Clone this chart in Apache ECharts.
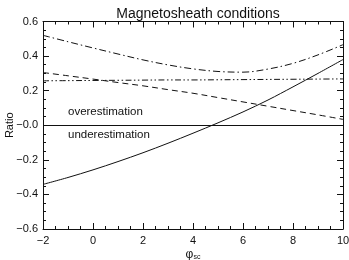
<!DOCTYPE html>
<html>
<head>
<meta charset="utf-8">
<script src="https://cdn.jsdelivr.net/npm/echarts@6/dist/echarts.min.js"></script>
<style>
  html, body { margin: 0; padding: 0; background: #fff; }
  #chart { width: 349px; height: 260px; }
</style>
</head>
<body>
<div id="chart"></div>
<script>
// phi_sc sample positions
const phiValues = [-2, -1, 0, 1, 2, 3, 4, 5, 6, 7, 8, 9, 10];
// solid curve
const solidRatio = [-0.342, -0.302, -0.258, -0.21, -0.159, -0.104, -0.046, 0.014, 0.077, 0.146, 0.222, 0.3, 0.38];
// dashed curve
const dashedRatio = [0.305, 0.286, 0.267, 0.247, 0.228, 0.206, 0.185, 0.16, 0.135, 0.11, 0.085, 0.06, 0.034];
// dash-dot curve (upper)
const dashDotRatio = [0.52, 0.483, 0.447, 0.412, 0.378, 0.349, 0.326, 0.311, 0.307, 0.325, 0.358, 0.407, 0.466];
// dash-dot-dot curve (nearly flat)
const dashDotDotRatio = [0.257, 0.258, 0.259, 0.26, 0.261, 0.262, 0.262, 0.263, 0.264, 0.265, 0.266, 0.267, 0.268];

const xTicks = [-2, 0, 2, 4, 6, 8, 10];
const yTicks = [-0.6, -0.4, -0.2, 0, 0.2, 0.4, 0.6];

const font = "Liberation Sans";
const ink = "#111";

const chart = echarts.init(document.getElementById("chart"));

const pairs = (vals) => phiValues.map((x, i) => [x, vals[i]]);

const tickCommon = {
  axisLine: { show: true, onZero: false, lineStyle: { color: ink, width: 1 } },
  axisTick: { show: true, inside: true, length: 6, lineStyle: { color: ink } },
  minorTick: { show: true, splitNumber: 4, length: 3, lineStyle: { color: ink } },
  splitLine: { show: false },
};

const fmtY = (v) => {
  const r = Math.round(v * 10) / 10;
  if (r === 0) return "\u22120.0";
  return (r < 0 ? "\u2212" : "") + Math.abs(r).toFixed(1);
};
const fmtX = (v) => (v < 0 ? "\u2212" : "") + Math.abs(v);

const lineSeries = (name, vals, type) => ({
  name: name,
  type: "line",
  data: pairs(vals),
  smooth: 0.35,
  showSymbol: false,
  symbol: "none",
  lineStyle: { color: ink, width: 1, type: type },
  z: 3,
});

const option = {
  animation: false,
  backgroundColor: "#fff",
  title: {
    text: "Magnetosheath conditions",
    left: 193,
    textAlign: "center",
    top: 2,
    textStyle: { fontFamily: font, fontSize: 14, fontWeight: "normal", color: ink },
  },
  grid: { left: 43, right: 6, top: 21.5, bottom: 31, containLabel: false, outerBoundsMode: "none" },
  xAxis: [
    Object.assign({
      type: "value",
      min: xTicks[0],
      max: xTicks[xTicks.length - 1],
      interval: 2,
      position: "bottom",
      name: "\u03c6{sub|sc}",
      nameLocation: "middle",
      nameGap: 20,
      nameMoveOverlap: false,
      nameTextStyle: {
        fontFamily: font, fontSize: 12, color: ink,
        rich: { sub: { fontFamily: font, fontSize: 7, color: ink, verticalAlign: "bottom", padding: [5, 0, 0, 0] } },
      },
      axisLabel: { fontFamily: font, fontSize: 11, color: ink, margin: 6, formatter: fmtX },
    }, tickCommon),
    Object.assign({
      type: "value",
      min: xTicks[0],
      max: xTicks[xTicks.length - 1],
      interval: 2,
      position: "top",
      axisLabel: { show: false },
    }, tickCommon),
  ],
  yAxis: [
    Object.assign({
      type: "value",
      min: yTicks[0],
      max: yTicks[yTicks.length - 1],
      interval: 0.2,
      position: "left",
      name: "Ratio",
      nameLocation: "middle",
      nameRotate: 90,
      nameGap: 28,
      nameMoveOverlap: false,
      nameTextStyle: { fontFamily: font, fontSize: 11, color: ink },
      axisLabel: { fontFamily: font, fontSize: 11, color: ink, margin: 5, formatter: fmtY },
    }, tickCommon),
    Object.assign({
      type: "value",
      min: yTicks[0],
      max: yTicks[yTicks.length - 1],
      interval: 0.2,
      position: "right",
      axisLabel: { show: false },
    }, tickCommon),
  ],
  series: [
    Object.assign(lineSeries("solid", solidRatio, "solid"), {
      markLine: {
        silent: true,
        symbol: "none",
        label: { show: false },
        lineStyle: { color: ink, width: 1, type: "solid" },
        data: [{ yAxis: 0 }],
      },
    }),
    lineSeries("dashed", dashedRatio, [6, 4]),
    lineSeries("dashdot", dashDotRatio, [7, 3, 1.5, 3]),
    lineSeries("dashdotdot", dashDotDotRatio, [6, 2.5, 1.5, 2.5, 1.5, 2.5]),
  ],
};

chart.setOption(option);

// annotation texts either side of the zero line, placed from data coords
const anchorOver = chart.convertToPixel({ xAxisIndex: 0, yAxisIndex: 0 }, [-1.0, 0.078]);
const anchorUnder = chart.convertToPixel({ xAxisIndex: 0, yAxisIndex: 0 }, [-1.0, -0.053]);
chart.setOption({
  graphic: [
    {
      type: "text", x: anchorOver[0], y: anchorOver[1],
      style: { text: "overestimation", fontFamily: font, fontSize: 11.5, fill: ink, verticalAlign: "middle" },
    },
    {
      type: "text", x: anchorUnder[0], y: anchorUnder[1],
      style: { text: "underestimation", fontFamily: font, fontSize: 11.5, fill: ink, verticalAlign: "middle" },
    },
  ],
});
</script>
</body>
</html>
